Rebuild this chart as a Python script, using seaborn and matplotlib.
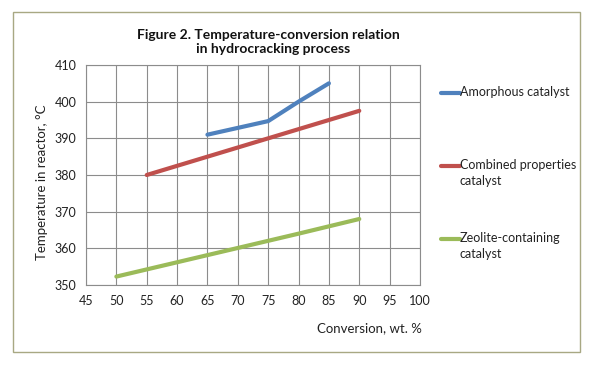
import matplotlib
matplotlib.use("Agg")
import matplotlib.pyplot as plt
from matplotlib.patches import Rectangle
from matplotlib.lines import Line2D
import seaborn as sns
import pandas as pd

# data
amorphous_x = [65, 75, 80, 85]
amorphous_y = [391, 394.7, 400, 405]
combined_x = [55, 65, 75, 85, 90]
combined_y = [380, 385, 390, 395, 397.5]
zeolite_x = [50, 60, 70, 80, 90]
zeolite_y = [352.3, 356.2, 360.1, 364, 368]

series_names = ["Amorphous catalyst", "Combined properties\ncatalyst", "Zeolite-containing\ncatalyst"]
colors = ["#4F81BD", "#C0504D", "#9BBB59"]
x_ticks = list(range(45, 101, 5))
y_ticks = list(range(350, 411, 10))

df = pd.concat([
    pd.DataFrame({"x": amorphous_x, "y": amorphous_y, "s": series_names[0]}),
    pd.DataFrame({"x": combined_x, "y": combined_y, "s": series_names[1]}),
    pd.DataFrame({"x": zeolite_x, "y": zeolite_y, "s": series_names[2]}),
])

sns.set_style("white")
plt.rcParams["font.family"] = ["Lato", "DejaVu Sans"]

fig = plt.figure(figsize=(5.92, 3.75), dpi=100)
ax = fig.add_axes([86 / 592, 1 - 285 / 375, (420 - 86) / 592, (285 - 65) / 375])

sns.lineplot(data=df, x="x", y="y", hue="s", palette=colors, linewidth=3,
             legend=False, ax=ax, sort=False, estimator=None)

ax.set_xlim(45, 100)
ax.set_ylim(350, 410)
ax.set_xticks(x_ticks)
ax.set_yticks(y_ticks)
ax.grid(True, color="#8c8c8c", linewidth=0.8)
ax.set_axisbelow(True)
for sp in ax.spines.values():
    sp.set_color("#8c8c8c")
    sp.set_linewidth(0.8)
ax.tick_params(axis="both", direction="out", length=4, color="#8c8c8c",
               labelsize=9, labelcolor="#222222", pad=3)
ax.set_xlabel("")
ax.set_ylabel("")

fig.text(422 / 592, 1 - 328 / 375, "Conversion, wt. %", ha="right", va="center",
         fontsize=9.5, color="#222222")
fig.text(42 / 592, 1 - 182 / 375, "Temperature in reactor, \u00b0C", rotation=90,
         ha="center", va="center", fontsize=9.5, color="#222222")
fig.text(268 / 592, 1 - 42 / 375, "Figure 2. Temperature-conversion relation\n   in hydrocracking process",
         ha="center", va="center", fontsize=10, fontweight="bold", color="#111111",
         linespacing=1.15)

# legend at the right
legend_y = [93, 166, 239]
for name, c, ly in zip(series_names, colors, legend_y):
    fig.add_artist(Line2D([441 / 592, 460 / 592], [1 - ly / 375, 1 - ly / 375],
                          color=c, linewidth=3, transform=fig.transFigure))
    fig.text(460 / 592, 1 - (ly - 7) / 375, name, ha="left", va="top",
             fontsize=9, color="#222222", linespacing=1.4)

fig.add_artist(Rectangle((13 / 592, 1 - 352 / 375), (580 - 13) / 592, (352 - 12) / 375,
                         transform=fig.transFigure, fill=False,
                         edgecolor="#a8a883", linewidth=1))

fig.savefig("out.png", dpi=100)
